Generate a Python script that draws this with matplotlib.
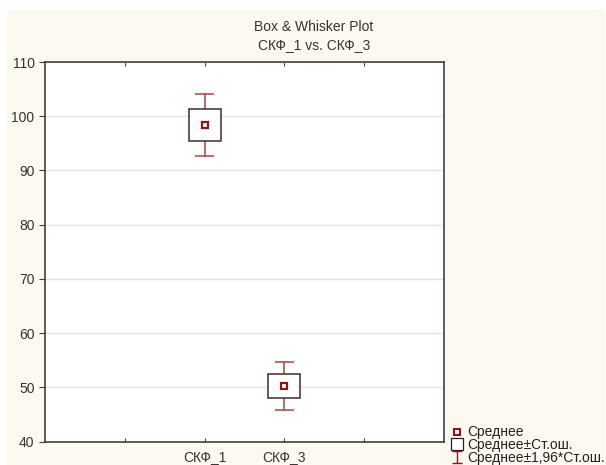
import matplotlib.pyplot as plt
from matplotlib.lines import Line2D
from matplotlib.patches import Rectangle
from matplotlib.path import Path

# values
categories = ['СКФ_1', 'СКФ_3']
means = [98.35, 50.25]
box_low = [95.45, 48.0]
box_high = [101.25, 52.5]
whisk_low = [92.65, 45.85]
whisk_high = [104.05, 54.6]
positions = [1, 2]

cream = '#fdf9f0'
box_col = '#3e2c2c'
whisk_col = '#a55a5a'
mean_col = '#8e1515'

plt.rcParams['font.family'] = ['Liberation Sans', 'DejaVu Sans']

fig = plt.figure(figsize=(6.06, 4.65), dpi=100)
fig.patch.set_facecolor('white')
# cream panel like Statistica
fig.patches.append(Rectangle((7 / 606, 0), 598 / 606, 455 / 465, transform=fig.transFigure,
                             facecolor=cream, edgecolor='none', zorder=-5))

ax = fig.add_axes([45 / 606, 1 - 441.5 / 465, 399 / 606, 379.5 / 465])
ax.set_facecolor('white')

for i, p in enumerate(positions):
    # whiskers
    ax.plot([p, p], [whisk_low[i], box_low[i]], color=whisk_col, lw=1.5, alpha=0.85, zorder=2)
    ax.plot([p, p], [box_high[i], whisk_high[i]], color=whisk_col, lw=1.5, alpha=0.85, zorder=2)
    ax.plot([p - 0.105, p + 0.105], [whisk_low[i]] * 2, color=whisk_col, lw=1.5, alpha=0.85, zorder=2)
    ax.plot([p - 0.105, p + 0.105], [whisk_high[i]] * 2, color=whisk_col, lw=1.5, alpha=0.85, zorder=2)
    # box
    ax.add_patch(Rectangle((p - 0.2, box_low[i]), 0.4, box_high[i] - box_low[i],
                           facecolor='white', edgecolor=box_col, lw=1.1, zorder=3))
    # mean
    ax.plot(p, means[i], marker='s', ms=4.5, mfc='white', mec=mean_col, mew=1.6, zorder=4)

ax.set_xlim(-1, 4)
ax.set_ylim(40, 110)
ax.set_yticks(range(40, 111, 10))
ax.set_xticks([0, 1, 2, 3])
ax.set_xticklabels(['', categories[0], categories[1], ''])
ax.grid(axis='y', color='#e2e2e2', lw=1)
ax.set_axisbelow(True)
ax.tick_params(axis='x', direction='in', length=3, top=True, color='#404040',
               labelsize=10, labelcolor='#333333', pad=6)
ax.tick_params(axis='y', direction='out', length=4, color='#404040',
               labelsize=10, labelcolor='#333333')
for s in ax.spines.values():
    s.set_color('#404040')
    s.set_linewidth(1.2)

fig.text(314 / 606, 1 - 27 / 465, 'Box & Whisker Plot', ha='center', va='center',
         fontsize=10, color='#333333')
fig.text(314 / 606, 1 - 45 / 465, 'СКФ_1 vs. СКФ_3', ha='center', va='center',
         fontsize=10, color='#333333')

# legend
ibeam = Path([(-0.8, -1), (0.8, -1), (0, -1), (0, 1), (-0.8, 1), (0.8, 1)],
             [Path.MOVETO, Path.LINETO, Path.MOVETO, Path.LINETO, Path.MOVETO, Path.LINETO])
handles = [
    Line2D([], [], ls='none', marker='s', ms=4, mfc='white', mec=mean_col, mew=1.5),
    Line2D([], [], ls='none', marker='s', ms=9, mfc='white', mec='#222222', mew=0.9),
    Line2D([], [], ls='none', marker=ibeam, ms=8.5, mfc='none', mec=mean_col, mew=1.0),
]
labels = ['Среднее', 'Среднее±Ст.ош.', 'Среднее±1,96*Ст.ош.']
fig.legend(handles, labels, loc='lower left', bbox_to_anchor=(442 / 606, 1 - 473 / 465),
           frameon=False, fontsize=10, handlelength=0.9, handletextpad=0.3,
           labelspacing=-0.1, borderpad=0.1, labelcolor='#222222')

fig.savefig('out.png', dpi=100, facecolor=fig.get_facecolor())
